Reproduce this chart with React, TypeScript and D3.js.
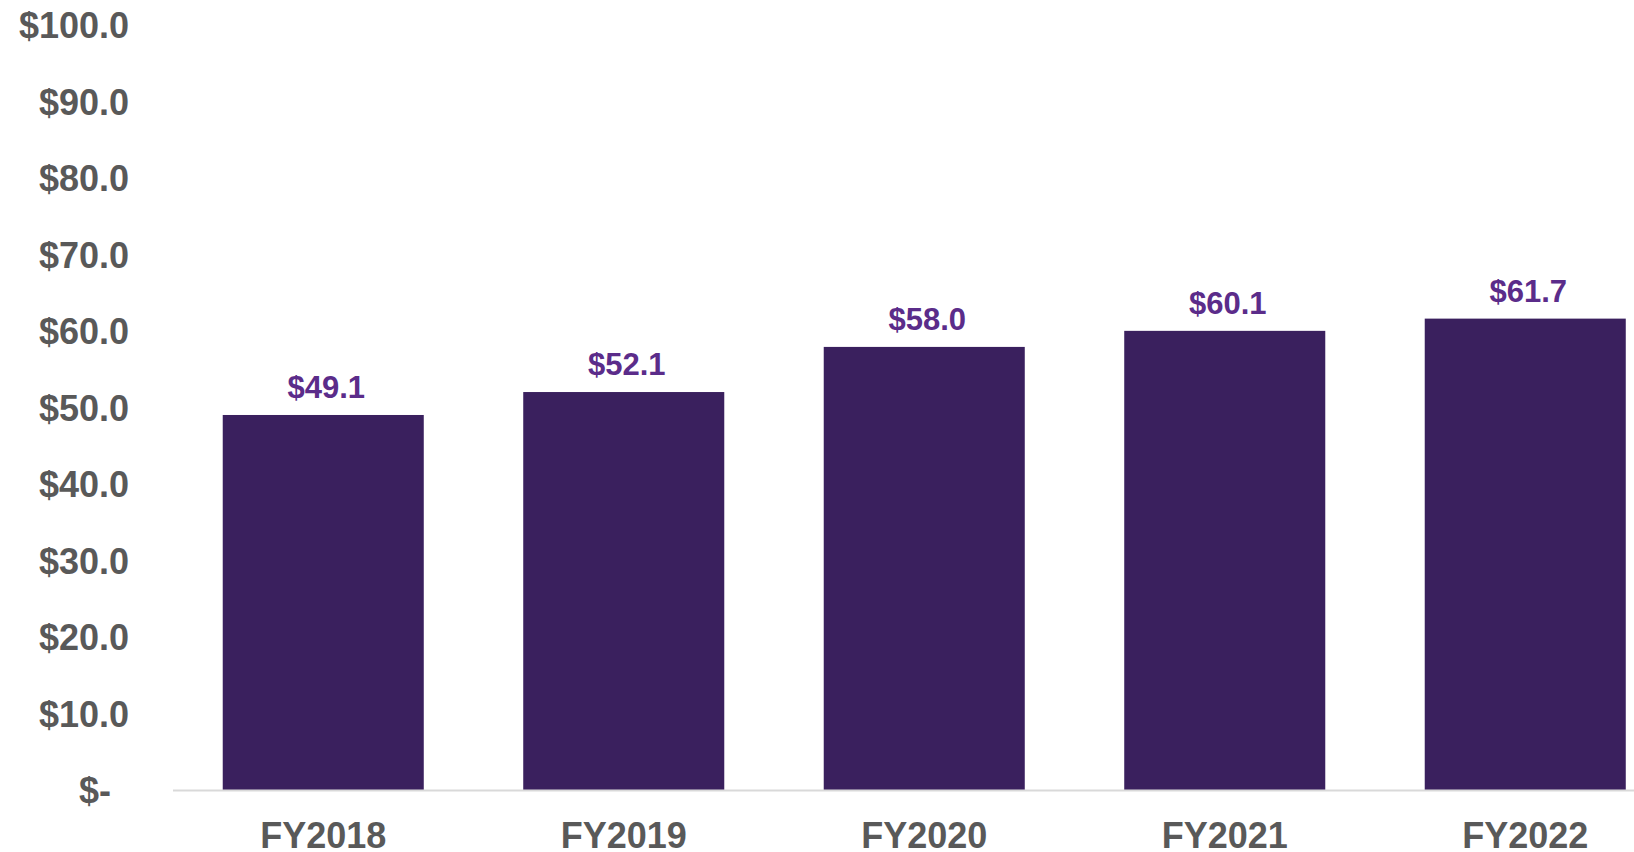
import React from "react";
import * as d3 from "d3";

const categories = ["FY2018", "FY2019", "FY2020", "FY2021", "FY2022"];
const values = [49.1, 52.1, 58.0, 60.1, 61.7];
const yTicks = [0, 10, 20, 30, 40, 50, 60, 70, 80, 90, 100];

const W = 1634;
const H = 852;

export default function App() {
  const x = d3
    .scaleBand<string>()
    .domain(categories)
    .range([173, 1675.5])
    .paddingInner(0.331)
    .paddingOuter(0.1655);
  const y = d3.scaleLinear().domain([0, 100]).range([790.5, 25.7]);

  const font = "'Liberation Sans', Arial, sans-serif";
  const fmt = (v: number) => (v === 0 ? "$-" : "$" + v.toFixed(1));

  return (
    <svg
      width={W}
      height={H}
      style={{ position: "absolute", left: 0, top: 0, background: "#fff" }}
    >
      {yTicks.map((t) => (
        <text
          key={t}
          x={t === 0 ? 111 : 129}
          y={y(t)}
          textAnchor="end"
          dominantBaseline="central"
          fontFamily={font}
          fontWeight="bold"
          fontSize={36}
          fill="#595959"
        >
          {fmt(t)}
        </text>
      ))}
      {categories.map((c, i) => (
        <rect
          key={c}
          x={x(c)}
          y={y(values[i])}
          width={x.bandwidth()}
          height={y(0) - y(values[i])}
          fill="#3a205e"
        />
      ))}
      <line x1={173} x2={W} y1={y(0)} y2={y(0)} stroke="#d9d9d9" strokeWidth={2} />
      {categories.map((c, i) => (
        <text
          key={c + "v"}
          x={(x(c) as number) + x.bandwidth() / 2 + 3}
          y={y(values[i]) - 17}
          textAnchor="middle"
          fontFamily={font}
          fontWeight="bold"
          fontSize={31}
          fill="#5b2c8a"
        >
          {fmt(values[i])}
        </text>
      ))}
      {categories.map((c) => (
        <text
          key={c + "c"}
          x={(x(c) as number) + x.bandwidth() / 2}
          y={835.5}
          textAnchor="middle"
          dominantBaseline="central"
          fontFamily={font}
          fontWeight="bold"
          fontSize={36}
          fill="#595959"
        >
          {c}
        </text>
      ))}
    </svg>
  );
}
